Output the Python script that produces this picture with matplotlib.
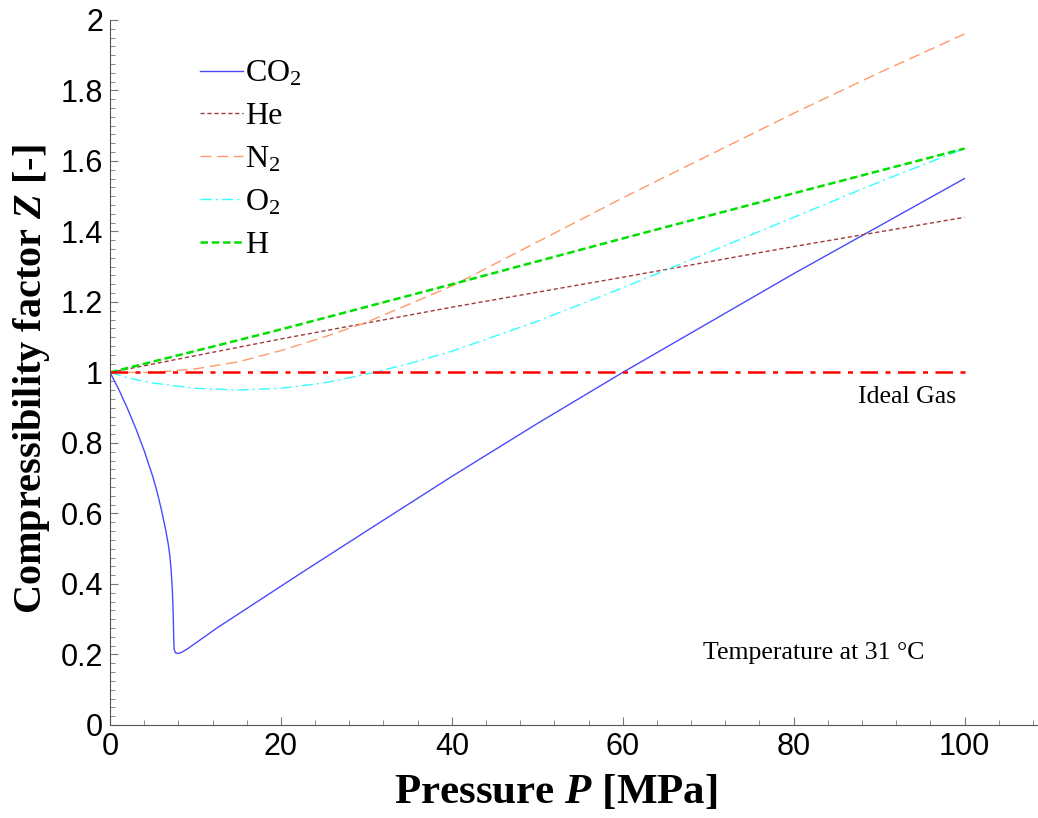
import matplotlib
matplotlib.use("Agg")
import matplotlib.pyplot as plt
import numpy as np
from matplotlib.ticker import MultipleLocator

plt.rcParams['mathtext.fontset'] = 'custom'
plt.rcParams['mathtext.rm'] = 'Liberation Serif'
plt.rcParams['mathtext.it'] = 'Liberation Serif:italic:bold'

# valeurs (P en MPa, Z sans unité)
p_co2 = [0, 1, 2, 3, 4, 5, 5.5, 6, 6.5, 6.8, 7.0, 7.15, 7.3, 7.4, 7.45, 7.5, 7.65, 7.9, 8.3, 9.0, 10.0, 12.5, 22.3, 30, 40, 50, 60, 70, 80, 90, 100]
z_co2 = [1.0, 0.953, 0.90, 0.842, 0.778, 0.705, 0.662, 0.612, 0.555, 0.515, 0.48, 0.44, 0.38, 0.31, 0.25, 0.215, 0.205, 0.203, 0.205, 0.215, 0.232, 0.275, 0.43, 0.55, 0.705, 0.855, 1.0, 1.14, 1.28, 1.415, 1.55]

p_he = [0, 20, 40, 60, 80, 100]
z_he = [1.0, 1.095, 1.185, 1.27, 1.357, 1.44]

p_n2 = [0, 5, 10, 15, 20, 25, 30, 40, 50, 60, 70, 80, 90, 100]
z_n2 = [1.0, 1.0, 1.01, 1.03, 1.062, 1.10, 1.142, 1.245, 1.37, 1.495, 1.615, 1.735, 1.85, 1.96]

p_o2 = [0, 2, 5, 10, 15, 20, 25, 30, 35, 40, 50, 60, 70, 80, 90, 100]
z_o2 = [1.0, 0.985, 0.97, 0.955, 0.95, 0.955, 0.97, 0.995, 1.025, 1.06, 1.145, 1.24, 1.34, 1.44, 1.54, 1.635]

p_h = [0, 20, 40, 60, 80, 100]
z_h = [1.0, 1.122, 1.25, 1.38, 1.508, 1.635]

p_ideal = [0, 100]
z_ideal = [1.0, 1.0]

fig = plt.figure(figsize=(10.38, 8.18), dpi=100)
ax = fig.add_axes([0.106, 0.1137, 0.894, 0.862])

ax.plot(p_co2, z_co2, color='#4a4aff', lw=1.0, label=r'CO$_2$')
ax.plot(p_he, z_he, color='#a03c3c', lw=1.0, dashes=(3, 2), label='He')
ax.plot(p_n2, z_n2, color='#ff9a6a', lw=1.0, dashes=(8, 4), label=r'N$_2$')
ax.plot(p_o2, z_o2, color='#33ffff', lw=1.0, dashes=(8, 3, 1.5, 3), label=r'O$_2$')
ax.plot(p_h, z_h, color='#00e000', lw=1.8, dashes=(3, 1.5), label='H')
ax.plot(p_ideal, z_ideal, color='#ff0000', lw=1.8, dashes=(7, 3, 2, 3))

ax.set_xlim(0, 108.6)
ax.set_ylim(0, 2)
ax.xaxis.set_major_locator(MultipleLocator(20))
ax.xaxis.set_minor_locator(MultipleLocator(4))
ax.yaxis.set_minor_locator(MultipleLocator(0.025))
ax.set_yticks(np.arange(0, 2.01, 0.2))
ax.set_yticklabels(['0', '0.2', '0.4', '0.6', '0.8', '1', '1.2', '1.4', '1.6', '1.8', '2'])

for s in ['top', 'right']:
    ax.spines[s].set_visible(False)
for s in ['left', 'bottom']:
    ax.spines[s].set_color('#555555')
ax.tick_params(which='both', direction='in', color='#777777')
ax.tick_params(which='major', length=6, labelsize=22, pad=5)
ax.tick_params(which='minor', length=3.5)
for lab in ax.get_xticklabels() + ax.get_yticklabels():
    lab.set_fontfamily('Liberation Sans')

ax.set_xlabel(r'Pressure $P$ [MPa]', fontfamily='Liberation Serif', fontweight='bold', fontsize=31, labelpad=8, x=0.48)
ax.set_ylabel(r'Compressibility factor $Z$ [-]', fontfamily='Liberation Serif', fontweight='bold', fontsize=29, labelpad=6, y=0.49)

ax.text(93.3, 0.93, 'Ideal Gas', fontfamily='Liberation Serif', fontsize=18.5, ha='center', va='center')
ax.text(82.4, 0.204, 'Temperature at 31 \u00b0C', fontfamily='Liberation Serif', fontsize=18.5, ha='center', va='center')

leg = ax.legend(loc='upper left', bbox_to_anchor=(0.066, 0.985), frameon=False,
                prop={'family': 'Liberation Serif', 'size': 23},
                handlelength=1.35, handletextpad=0.05, labelspacing=0.42)

fig.savefig('out.png', dpi=100)
